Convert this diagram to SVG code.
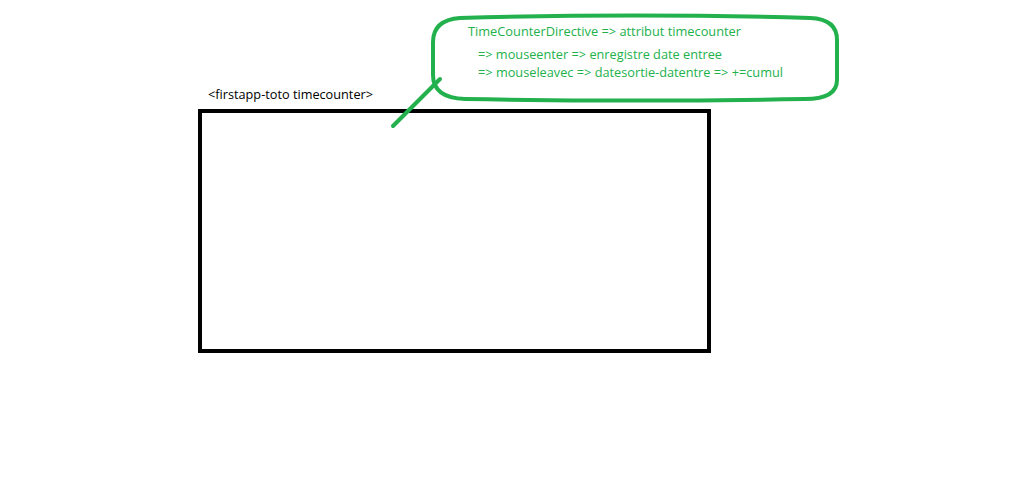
<svg xmlns="http://www.w3.org/2000/svg" width="1017" height="480" viewBox="0 0 1017 480">
<style>
.g{fill:none;stroke:#22B14C;stroke-width:4;stroke-linecap:round}
.gt{font-family:"Open Sans","Liberation Sans",sans-serif;font-size:13px;fill:#22B14C}
.bt{font-family:"Open Sans","Liberation Sans",sans-serif;font-size:13px;fill:#000}
</style>
<rect width="1017" height="480" fill="#fff"/>
<g id="component">
<rect x="200" y="111" width="509" height="240" fill="none" stroke="#000" stroke-width="4"/>
<text class="bt" x="208" y="99" textLength="165" lengthAdjust="spacingAndGlyphs">&lt;firstapp-toto timecounter&gt;</text>
</g>
<g id="note">
<path class="g" d="M460,18 Q635,13 810,18 Q837,19 837,40 L837,80 Q837,99 805,99 Q635,102 465,99 Q433,98 433,75 L433,42 Q433,20 460,18 Z"/>
<text class="gt" x="468" y="36" textLength="273" lengthAdjust="spacingAndGlyphs">TimeCounterDirective =&gt; attribut timecounter</text>
<text class="gt" x="478" y="59" textLength="244" lengthAdjust="spacingAndGlyphs">=&gt; mouseenter =&gt; enregistre date entree</text>
<text class="gt" x="478" y="77" textLength="305" lengthAdjust="spacingAndGlyphs">=&gt; mouseleavec =&gt; datesortie-datentre =&gt; +=cumul</text>
</g>
<g id="connectors">
<line class="g" x1="393" y1="126" x2="440" y2="79"/>
</g>
</svg>
